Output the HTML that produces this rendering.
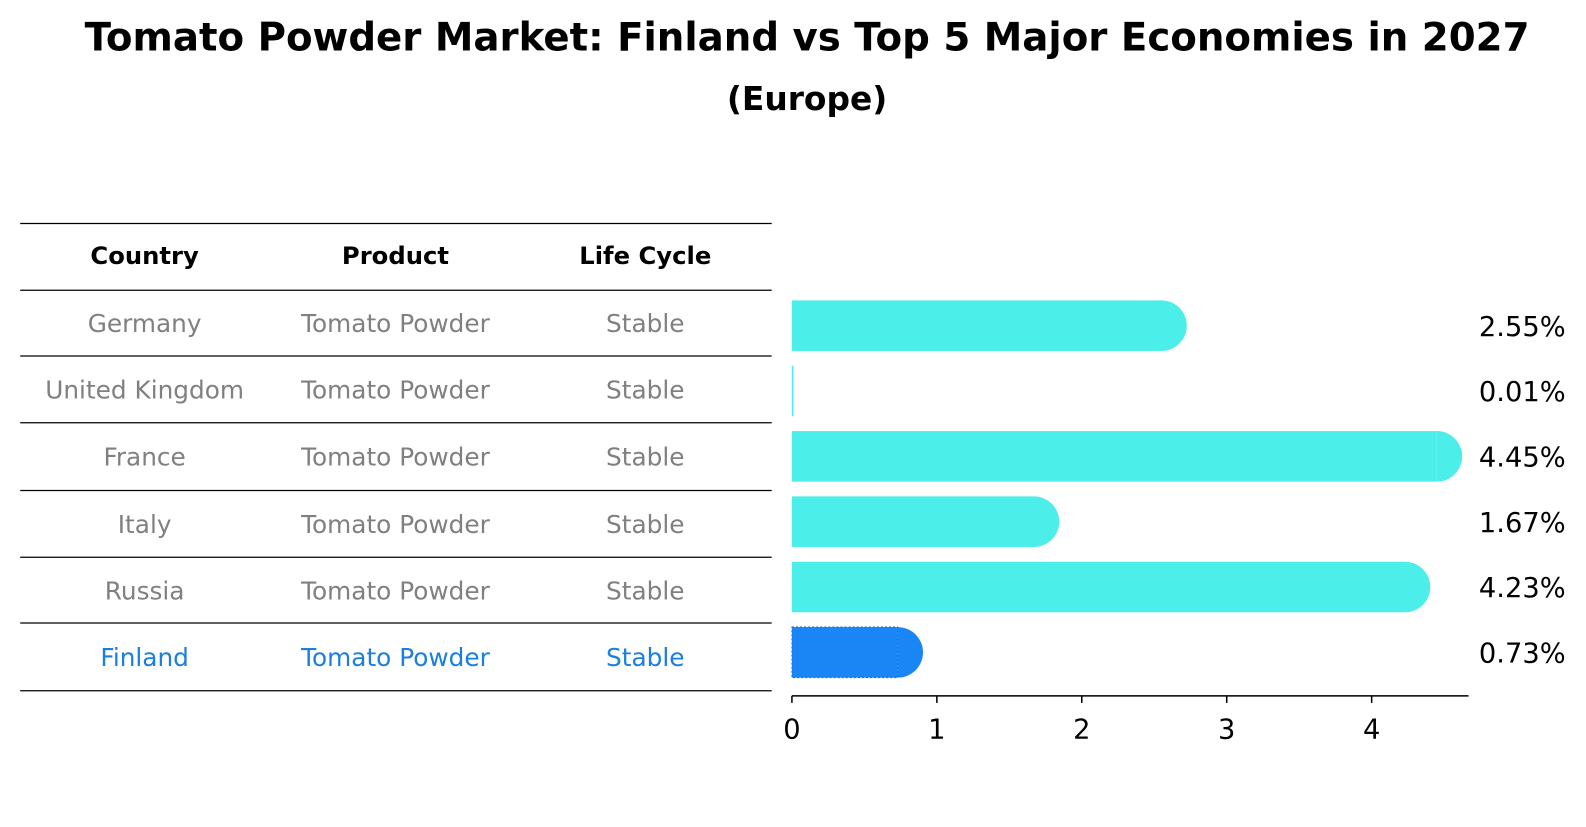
<!DOCTYPE html>
<html><head><meta charset="utf-8"><style>
body{margin:0;background:#fff;font-family:"DejaVu Sans","Liberation Sans",sans-serif;}
</style></head><body>
<svg width="1586" height="823" xmlns="http://www.w3.org/2000/svg" font-family="DejaVu Sans, Liberation Sans, sans-serif">
<g transform="scale(1.0114)">
<text x="798" y="50" text-anchor="middle" font-size="38.3" font-weight="bold">Tomato Powder Market: Finland vs Top 5 Major Economies in 2027</text>
<text x="798" y="109" text-anchor="middle" font-size="32.5" font-weight="bold">(Europe)</text>
<g id="table"></g>
<g id="bars"></g>
</g>
</svg>
<script>
const countries=["Germany","United Kingdom","France","Italy","Russia","Finland"];
const products=["Tomato Powder","Tomato Powder","Tomato Powder","Tomato Powder","Tomato Powder","Tomato Powder"];
const lifecycle=["Stable","Stable","Stable","Stable","Stable","Stable"];
const values=[2.55,0.01,4.45,1.67,4.23,0.73];
const ticks=[0,1,2,3,4];
const NS="http://www.w3.org/2000/svg";
function mk(t,a,p,txt){const e=document.createElementNS(NS,t);for(const k in a)e.setAttribute(k,a[k]);if(txt!=null)e.textContent=txt;p.appendChild(e);return e;}
const tb=document.getElementById('table');
const lines=[221,287,352,418,485,551,616,683];
lines.forEach((y,i)=>{const l=mk('line',{x1:20,x2:763,y1:y,y2:y,stroke:'#000','stroke-width':1.2},tb);

});
const cx=[143,391,638];
["Country","Product","Life Cycle"].forEach((h,i)=>{const t=mk('text',{x:cx[i],y:261,'text-anchor':'middle','font-size':24,'font-weight':'bold'},tb,h);

});
countries.forEach((c,r)=>{const y=(lines[r+1]+lines[r+2])/2+9;const col=r===countries.length-1?'#1a7fe0':'#808080';
[c,products[r],lifecycle[r]].forEach((v,i)=>{const t=mk('text',{x:cx[i],y:y,'text-anchor':'middle','font-size':24.5,fill:col},tb,v);

});});
const bg=document.getElementById('bars');
const x0=783,pxu=143.3;const xs=v=>x0+v*pxu;
const yc=i=>322+i*64.6;const h=50;
values.forEach((v,i)=>{const fin=i===values.length-1;const col=fin?'#1a86f5':'#4ceee9';
const w=Math.max(xs(v)-x0,0.5);
const g=mk('g',{},bg);


mk('rect',{x:x0,y:yc(i)-h/2,width:w,height:h,fill:col},g);
if(v>0.05)mk('path',{d:`M${xs(v)} ${yc(i)-h/2} A${h/2} ${h/2} 0 0 1 ${xs(v)} ${yc(i)+h/2} Z`,fill:col},g);
if(fin)mk('rect',{x:x0,y:yc(i)-h/2,width:w,height:h,fill:'none',stroke:'#0f6fd0','stroke-dasharray':'2 2','stroke-width':1},g);
const t=mk('text',{x:1548,y:yc(i)+10,'text-anchor':'end','font-size':27},bg,v.toFixed(2)+'%');


});
const ax=mk('line',{x1:x0,x2:1452,y1:688,y2:688,stroke:'#000','stroke-width':1.5},bg);


ticks.forEach(t=>{const l=mk('line',{x1:xs(t),x2:xs(t),y1:688,y2:695,stroke:'#000','stroke-width':1.5},bg);


const tx=mk('text',{x:xs(t),y:730,'text-anchor':'middle','font-size':27},bg,String(t));

});
</script>
</body></html>
